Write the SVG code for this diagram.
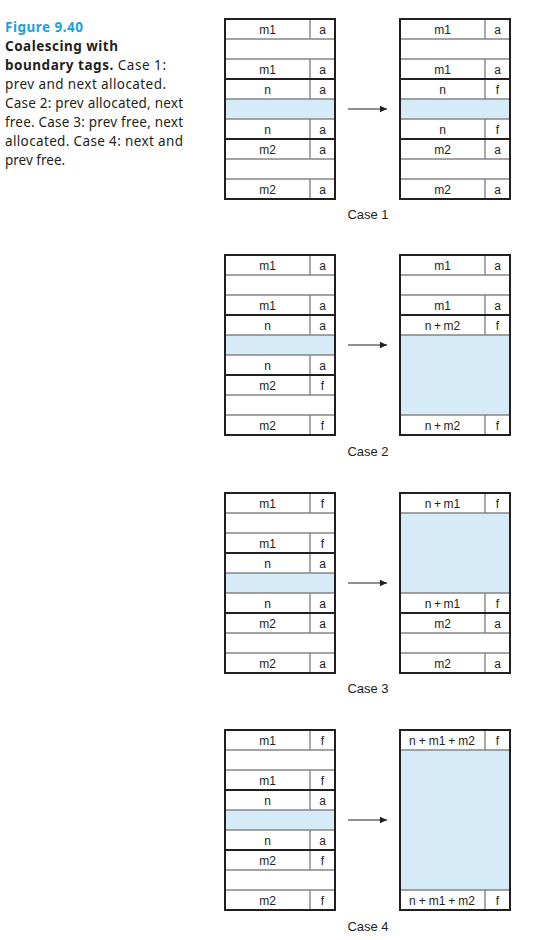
<svg xmlns="http://www.w3.org/2000/svg" width="538" height="940" viewBox="0 0 538 940">
<style>
.bg{fill:#ffffff}
.pay{fill:#d5ebf8;stroke:none}
.in{stroke:#858585;stroke-width:1.4;fill:none}
.blk{fill:none;stroke:#231f20;stroke-width:2}
.t{font-family:"Liberation Sans",Arial,sans-serif;font-size:12px;fill:#231f20;text-anchor:middle}
.lbl{font-family:"Liberation Sans",Arial,sans-serif;font-size:13px;fill:#231f20;text-anchor:middle}
.cap{font-family:"Noto Sans","Open Sans",sans-serif;font-size:13.5px;fill:#231f20}
.capb{font-weight:bold}
.fig{font-weight:bold;fill:#1ea0dc}
.arr{stroke:#231f20;stroke-width:1.2;fill:none}
</style>
<defs>
<marker id="ah" markerWidth="8" markerHeight="8" refX="7" refY="4" orient="auto" markerUnits="userSpaceOnUse">
<path d="M0,0.8 L7,4 L0,7.2 Z" fill="#231f20"/>
</marker>
</defs>
<rect class="bg" x="0" y="0" width="538" height="940"/>

<g id="caption">
<text class="cap fig" x="5" y="32" textLength="78" lengthAdjust="spacing">Figure 9.40</text>
<text class="cap capb" x="5" y="51" textLength="113" lengthAdjust="spacing">Coalescing with</text>
<text class="cap" x="5" y="70" textLength="161" lengthAdjust="spacing"><tspan class="capb">boundary tags.</tspan> Case 1:</text>
<text class="cap" x="5" y="89" textLength="161" lengthAdjust="spacing">prev and next allocated.</text>
<text class="cap" x="5" y="108" textLength="178" lengthAdjust="spacing">Case 2: prev allocated, next</text>
<text class="cap" x="5" y="127" textLength="178" lengthAdjust="spacing">free. Case 3: prev free, next</text>
<text class="cap" x="5" y="146" textLength="178" lengthAdjust="spacing">allocated. Case 4: next and</text>
<text class="cap" x="5" y="165">prev free.</text>
</g>

<!-- ========== CASE 1 ========== -->
<g id="c1-left-m1">
<path class="in" d="M225,39H335M225,59H335M310,19V39M310,59V79"/>
<rect class="blk" x="225" y="19" width="110" height="60"/>
<text class="t" x="267.5" y="34">m1</text><text class="t" x="322.5" y="34">a</text>
<text class="t" x="267.5" y="74">m1</text><text class="t" x="322.5" y="74">a</text>
</g>
<g id="c1-left-n">
<rect class="pay" x="225" y="99" width="110" height="20"/>
<path class="in" d="M225,99H335M225,119H335M310,79V99M310,119V139"/>
<rect class="blk" x="225" y="79" width="110" height="60"/>
<text class="t" x="267.5" y="94">n</text><text class="t" x="322.5" y="94">a</text>
<text class="t" x="267.5" y="134">n</text><text class="t" x="322.5" y="134">a</text>
</g>
<g id="c1-left-m2">
<path class="in" d="M225,159H335M225,179H335M310,139V159M310,179V199"/>
<rect class="blk" x="225" y="139" width="110" height="60"/>
<text class="t" x="267.5" y="154">m2</text><text class="t" x="322.5" y="154">a</text>
<text class="t" x="267.5" y="194">m2</text><text class="t" x="322.5" y="194">a</text>
</g>
<g id="c1-right-m1">
<path class="in" d="M400,39H510M400,59H510M485,19V39M485,59V79"/>
<rect class="blk" x="400" y="19" width="110" height="60"/>
<text class="t" x="442.5" y="34">m1</text><text class="t" x="497.5" y="34">a</text>
<text class="t" x="442.5" y="74">m1</text><text class="t" x="497.5" y="74">a</text>
</g>
<g id="c1-right-n">
<rect class="pay" x="400" y="99" width="110" height="20"/>
<path class="in" d="M400,99H510M400,119H510M485,79V99M485,119V139"/>
<rect class="blk" x="400" y="79" width="110" height="60"/>
<text class="t" x="442.5" y="94">n</text><text class="t" x="497.5" y="94">f</text>
<text class="t" x="442.5" y="134">n</text><text class="t" x="497.5" y="134">f</text>
</g>
<g id="c1-right-m2">
<path class="in" d="M400,159H510M400,179H510M485,139V159M485,179V199"/>
<rect class="blk" x="400" y="139" width="110" height="60"/>
<text class="t" x="442.5" y="154">m2</text><text class="t" x="497.5" y="154">a</text>
<text class="t" x="442.5" y="194">m2</text><text class="t" x="497.5" y="194">a</text>
</g>
<g id="c1-label"><text class="lbl" x="368" y="219">Case 1</text></g>

<!-- ========== CASE 2 ========== -->
<g id="c2-left-m1">
<path class="in" d="M225,275H335M225,295H335M310,255V275M310,295V315"/>
<rect class="blk" x="225" y="255" width="110" height="60"/>
<text class="t" x="267.5" y="270">m1</text><text class="t" x="322.5" y="270">a</text>
<text class="t" x="267.5" y="310">m1</text><text class="t" x="322.5" y="310">a</text>
</g>
<g id="c2-left-n">
<rect class="pay" x="225" y="335" width="110" height="20"/>
<path class="in" d="M225,335H335M225,355H335M310,315V335M310,355V375"/>
<rect class="blk" x="225" y="315" width="110" height="60"/>
<text class="t" x="267.5" y="330">n</text><text class="t" x="322.5" y="330">a</text>
<text class="t" x="267.5" y="370">n</text><text class="t" x="322.5" y="370">a</text>
</g>
<g id="c2-left-m2">
<path class="in" d="M225,395H335M225,415H335M310,375V395M310,415V435"/>
<rect class="blk" x="225" y="375" width="110" height="60"/>
<text class="t" x="267.5" y="390">m2</text><text class="t" x="322.5" y="390">f</text>
<text class="t" x="267.5" y="430">m2</text><text class="t" x="322.5" y="430">f</text>
</g>
<g id="c2-right-m1">
<path class="in" d="M400,275H510M400,295H510M485,255V275M485,295V315"/>
<rect class="blk" x="400" y="255" width="110" height="60"/>
<text class="t" x="442.5" y="270">m1</text><text class="t" x="497.5" y="270">a</text>
<text class="t" x="442.5" y="310">m1</text><text class="t" x="497.5" y="310">a</text>
</g>
<g id="c2-right-nm2">
<rect class="pay" x="400" y="335" width="110" height="80"/>
<path class="in" d="M400,335H510M400,415H510M485,315V335M485,415V435"/>
<rect class="blk" x="400" y="315" width="110" height="120"/>
<text class="t" x="442.5" y="330">n<tspan dx="2.5">+</tspan><tspan dx="2.5">m2</tspan></text><text class="t" x="497.5" y="330">f</text>
<text class="t" x="442.5" y="430">n<tspan dx="2.5">+</tspan><tspan dx="2.5">m2</tspan></text><text class="t" x="497.5" y="430">f</text>
</g>
<g id="c2-label"><text class="lbl" x="368" y="456">Case 2</text></g>

<!-- ========== CASE 3 ========== -->
<g id="c3-left-m1">
<path class="in" d="M225,513H335M225,533H335M310,493V513M310,533V553"/>
<rect class="blk" x="225" y="493" width="110" height="60"/>
<text class="t" x="267.5" y="508">m1</text><text class="t" x="322.5" y="508">f</text>
<text class="t" x="267.5" y="548">m1</text><text class="t" x="322.5" y="548">f</text>
</g>
<g id="c3-left-n">
<rect class="pay" x="225" y="573" width="110" height="20"/>
<path class="in" d="M225,573H335M225,593H335M310,553V573M310,593V613"/>
<rect class="blk" x="225" y="553" width="110" height="60"/>
<text class="t" x="267.5" y="568">n</text><text class="t" x="322.5" y="568">a</text>
<text class="t" x="267.5" y="608">n</text><text class="t" x="322.5" y="608">a</text>
</g>
<g id="c3-left-m2">
<path class="in" d="M225,633H335M225,653H335M310,613V633M310,653V673"/>
<rect class="blk" x="225" y="613" width="110" height="60"/>
<text class="t" x="267.5" y="628">m2</text><text class="t" x="322.5" y="628">a</text>
<text class="t" x="267.5" y="668">m2</text><text class="t" x="322.5" y="668">a</text>
</g>
<g id="c3-right-nm1">
<rect class="pay" x="400" y="513" width="110" height="80"/>
<path class="in" d="M400,513H510M400,593H510M485,493V513M485,593V613"/>
<rect class="blk" x="400" y="493" width="110" height="120"/>
<text class="t" x="442.5" y="508">n<tspan dx="2.5">+</tspan><tspan dx="2.5">m1</tspan></text><text class="t" x="497.5" y="508">f</text>
<text class="t" x="442.5" y="608">n<tspan dx="2.5">+</tspan><tspan dx="2.5">m1</tspan></text><text class="t" x="497.5" y="608">f</text>
</g>
<g id="c3-right-m2">
<path class="in" d="M400,633H510M400,653H510M485,613V633M485,653V673"/>
<rect class="blk" x="400" y="613" width="110" height="60"/>
<text class="t" x="442.5" y="628">m2</text><text class="t" x="497.5" y="628">a</text>
<text class="t" x="442.5" y="668">m2</text><text class="t" x="497.5" y="668">a</text>
</g>
<g id="c3-label"><text class="lbl" x="368" y="693">Case 3</text></g>

<!-- ========== CASE 4 ========== -->
<g id="c4-left-m1">
<path class="in" d="M225,750H335M225,770H335M310,730V750M310,770V790"/>
<rect class="blk" x="225" y="730" width="110" height="60"/>
<text class="t" x="267.5" y="745">m1</text><text class="t" x="322.5" y="745">f</text>
<text class="t" x="267.5" y="785">m1</text><text class="t" x="322.5" y="785">f</text>
</g>
<g id="c4-left-n">
<rect class="pay" x="225" y="810" width="110" height="20"/>
<path class="in" d="M225,810H335M225,830H335M310,790V810M310,830V850"/>
<rect class="blk" x="225" y="790" width="110" height="60"/>
<text class="t" x="267.5" y="805">n</text><text class="t" x="322.5" y="805">a</text>
<text class="t" x="267.5" y="845">n</text><text class="t" x="322.5" y="845">a</text>
</g>
<g id="c4-left-m2">
<path class="in" d="M225,870H335M225,890H335M310,850V870M310,890V910"/>
<rect class="blk" x="225" y="850" width="110" height="60"/>
<text class="t" x="267.5" y="865">m2</text><text class="t" x="322.5" y="865">f</text>
<text class="t" x="267.5" y="905">m2</text><text class="t" x="322.5" y="905">f</text>
</g>
<g id="c4-right-nm1m2">
<rect class="pay" x="400" y="750" width="110" height="140"/>
<path class="in" d="M400,750H510M400,890H510M485,730V750M485,890V910"/>
<rect class="blk" x="400" y="730" width="110" height="180"/>
<text class="t" x="442" y="745">n<tspan dx="3">+</tspan><tspan dx="3">m1</tspan><tspan dx="3">+</tspan><tspan dx="3">m2</tspan></text><text class="t" x="497.5" y="745">f</text>
<text class="t" x="442" y="905">n<tspan dx="3">+</tspan><tspan dx="3">m1</tspan><tspan dx="3">+</tspan><tspan dx="3">m2</tspan></text><text class="t" x="497.5" y="905">f</text>
</g>
<g id="c4-label"><text class="lbl" x="368" y="931">Case 4</text></g>

<g id="connectors">
<line class="arr" x1="348" y1="109" x2="387" y2="109" marker-end="url(#ah)"/>
<line class="arr" x1="348" y1="345" x2="387" y2="345" marker-end="url(#ah)"/>
<line class="arr" x1="348" y1="583" x2="387" y2="583" marker-end="url(#ah)"/>
<line class="arr" x1="348" y1="820" x2="387" y2="820" marker-end="url(#ah)"/>
</g>
</svg>
